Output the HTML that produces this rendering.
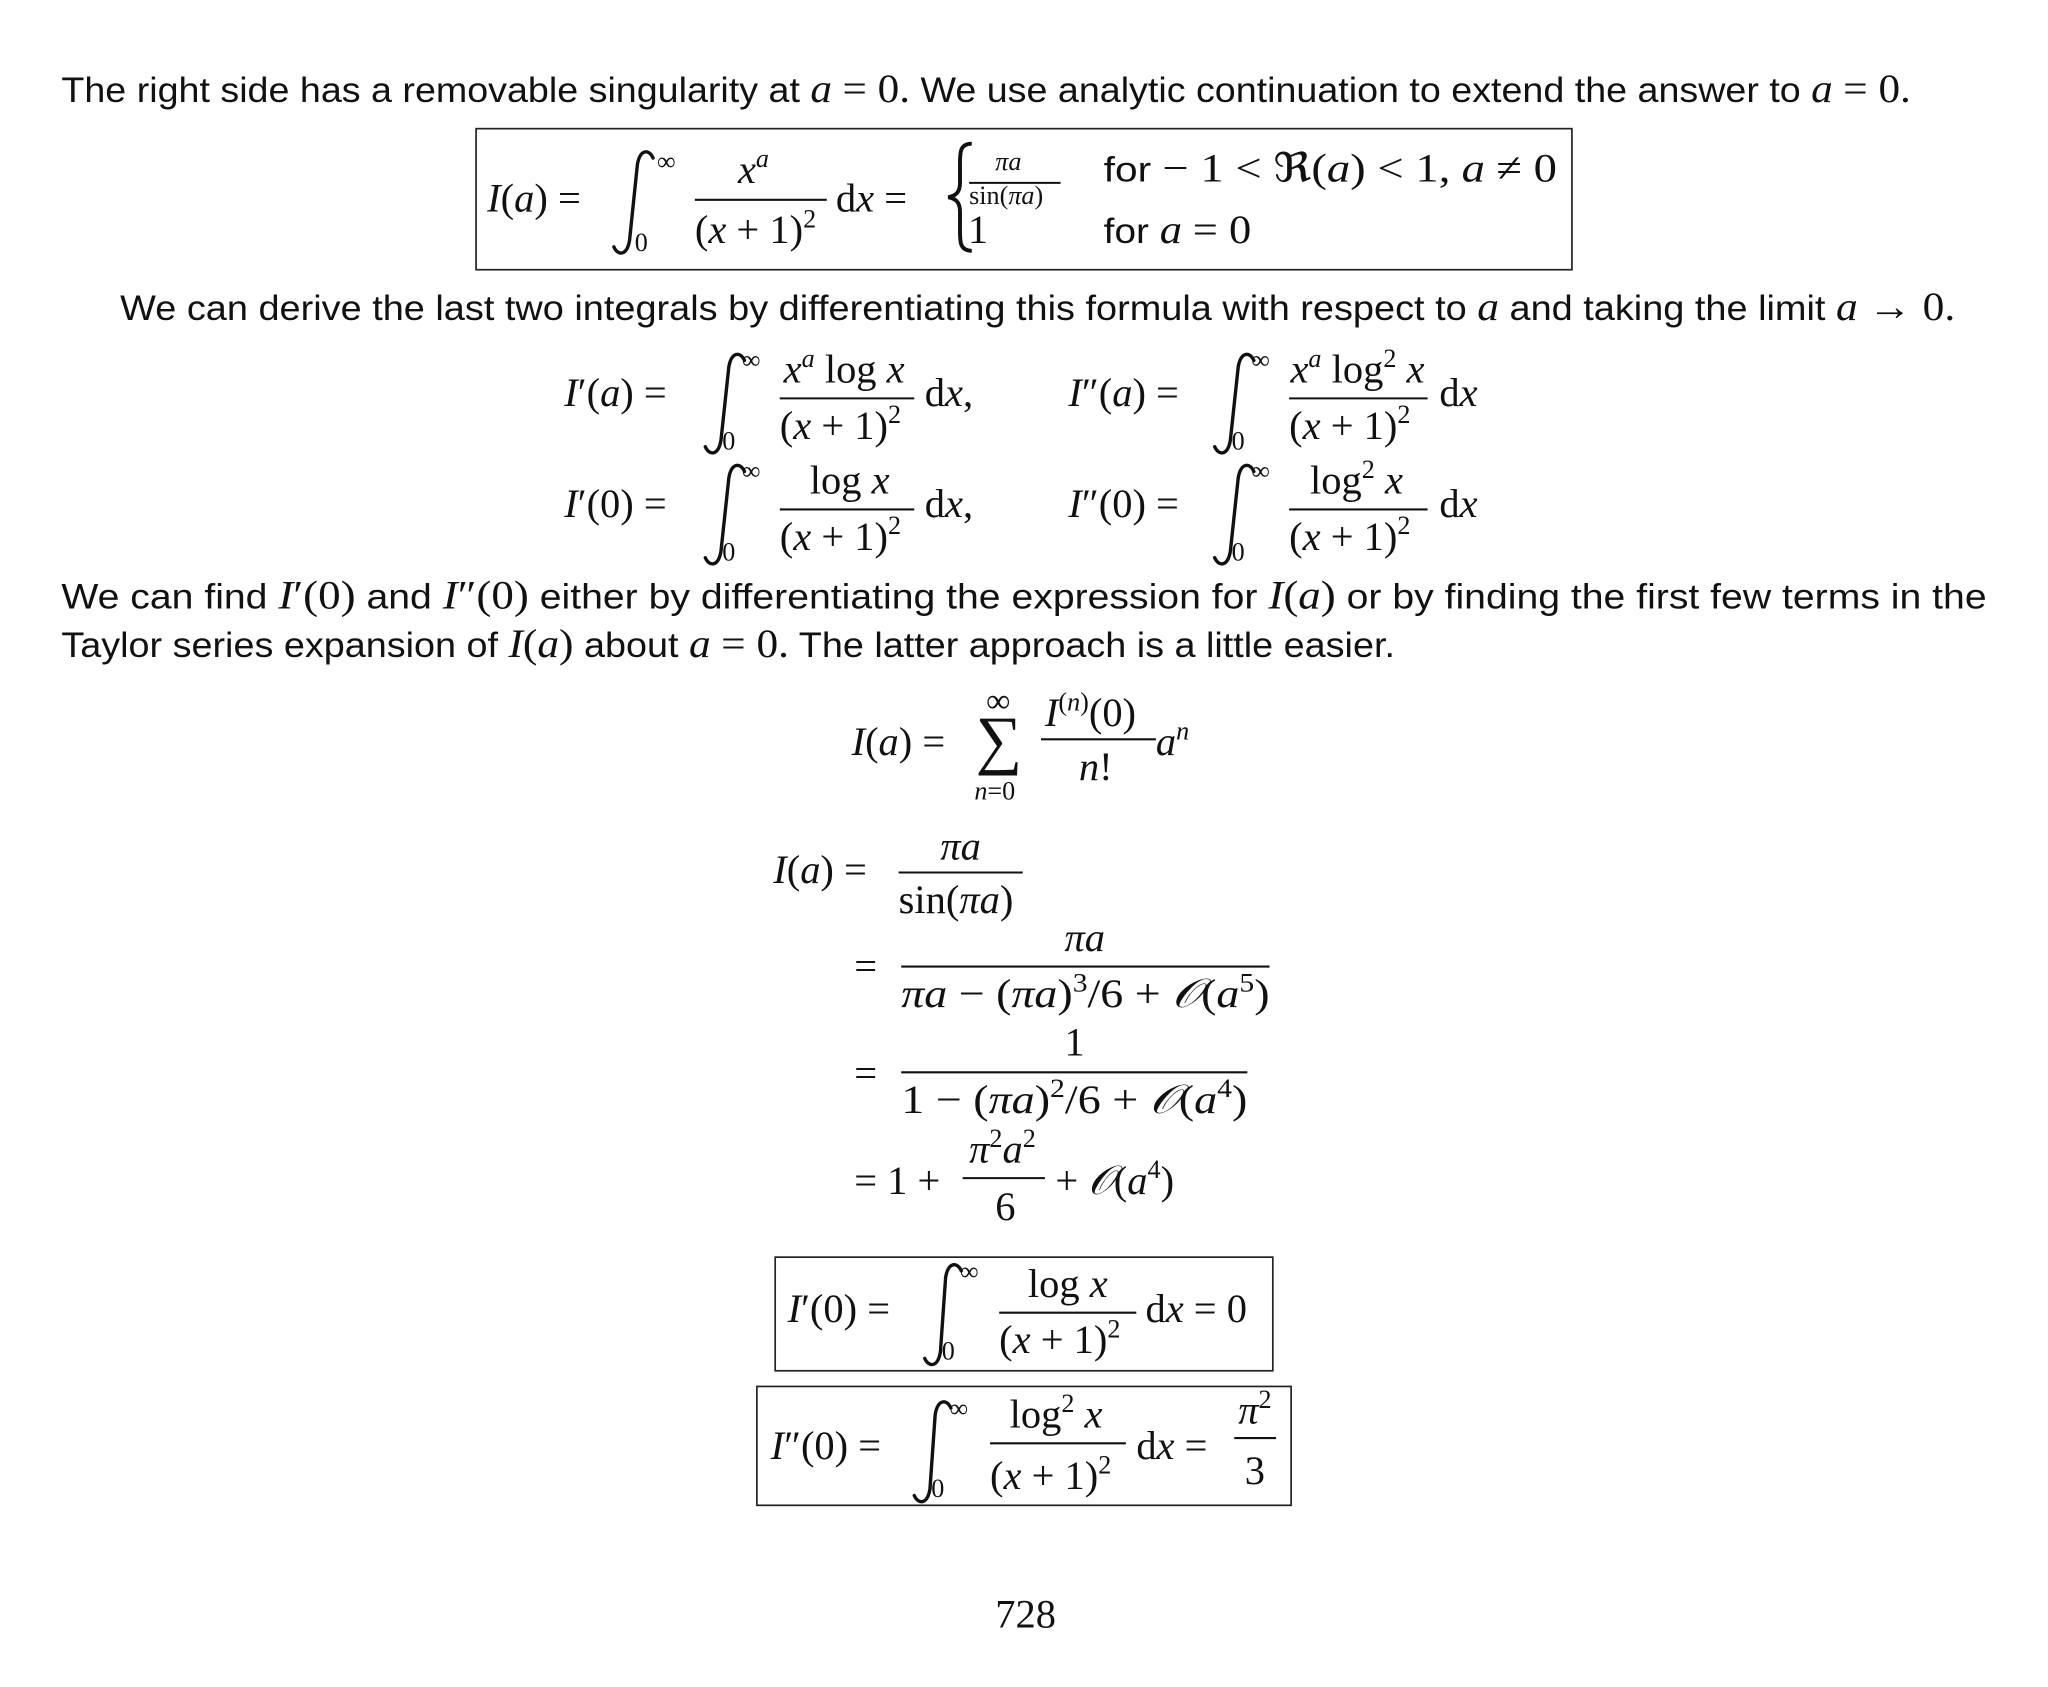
<!DOCTYPE html>
<html><head><meta charset="utf-8"><style>
html,body{margin:0;padding:0;background:#fff;}
svg{display:block;}
.s{font-family:"Liberation Sans",sans-serif;font-size:27px;fill:#111;}
.m{font-family:"Liberation Serif",serif;font-size:31px;fill:#111;}
.i{font-style:italic;}
.sm{font-size:20px;}
.int{fill:none;stroke:#111;stroke-width:2.6;stroke-linecap:round;}
.bar{stroke:#111;stroke-width:1.6;}
</style></head><body>
<svg width="2048" height="1687" viewBox="0 0 1568 1291.6" xmlns="http://www.w3.org/2000/svg">
<text class="s" x="47" y="78" textLength="1416" lengthAdjust="spacingAndGlyphs">The right side has a removable singularity at <tspan class="m i">a</tspan> <tspan class="m">= 0.</tspan> We use analytic continuation to extend the answer to <tspan class="m i">a</tspan> <tspan class="m">= 0.</tspan></text>

<rect x="364.5" y="98.5" width="839" height="108" fill="none" stroke="#222" stroke-width="1.3"/>
<text class="m" x="373" y="162"><tspan class="i">I</tspan>(<tspan class="i">a</tspan>) =</text>
<path class="int" d="M500 121 C497 114,490 114,488 126 L482 184 C480 196,473 196,470 189"/>
<text class="m sm" x="503" y="130">∞</text>
<text class="m sm" x="486" y="192">0</text>
<text class="m i" x="565" y="140">x<tspan class="sm" dy="-12">a</tspan></text>
<line class="bar" x1="532" y1="153" x2="633" y2="153"/>
<text class="m" x="532" y="186">(<tspan class="i">x</tspan> + 1)<tspan class="sm" dy="-12">2</tspan></text>
<text class="m" x="640" y="162">d<tspan class="i">x</tspan> =</text>
<path d="M744 110 C734 110,735 118,735 130 L735 140 C735 148,731 150,726 151 C731 152,735 154,735 162 L735 172 C735 184,734 192,744 192" fill="none" stroke="#111" stroke-width="3"/>
<text class="m sm" x="762" y="130"><tspan class="i">πa</tspan></text>
<line class="bar" x1="742" y1="140" x2="812" y2="140"/>
<text class="m sm" x="742" y="156">sin(<tspan class="i">πa</tspan>)</text>
<text class="s" x="845" y="139" textLength="347" lengthAdjust="spacingAndGlyphs">for <tspan class="m">− 1 &lt; ℜ(</tspan><tspan class="m i">a</tspan><tspan class="m">) &lt; 1,</tspan> <tspan class="m i">a</tspan> <tspan class="m">≠ 0</tspan></text>
<text class="m" x="741" y="186">1</text>
<text class="s" x="845" y="186" textLength="113" lengthAdjust="spacingAndGlyphs">for <tspan class="m i">a</tspan> <tspan class="m">= 0</tspan></text>

<text class="s" x="92" y="245" textLength="1405" lengthAdjust="spacingAndGlyphs">We can derive the last two integrals by differentiating this formula with respect to <tspan class="m i">a</tspan> and taking the limit <tspan class="m i">a</tspan> <tspan class="m">→ 0.</tspan></text>

<text class="m" x="432" y="311"><tspan class="i">I</tspan>′(<tspan class="i">a</tspan>) =</text>
<path class="int" d="M570 276 C567 269,560 269,558 281 L552 337 C550 349,543 349,540 342"/>
<text class="m sm" x="568" y="282">∞</text>
<text class="m sm" x="553" y="344">0</text>
<text class="m" x="600" y="293"><tspan class="i">x</tspan><tspan class="sm i" dy="-12">a</tspan><tspan dy="12"> log </tspan><tspan class="i">x</tspan></text>
<line class="bar" x1="597" y1="305" x2="700" y2="305"/>
<text class="m" x="597" y="336">(<tspan class="i">x</tspan> + 1)<tspan class="sm" dy="-12">2</tspan></text>
<text class="m" x="708" y="311">d<tspan class="i">x</tspan>,</text>

<text class="m" x="818" y="311"><tspan class="i">I</tspan>″(<tspan class="i">a</tspan>) =</text>
<path class="int" d="M960 276 C957 269,950 269,948 281 L942 337 C940 349,933 349,930 342"/>
<text class="m sm" x="958" y="282">∞</text>
<text class="m sm" x="943" y="344">0</text>
<text class="m" x="988" y="293"><tspan class="i">x</tspan><tspan class="sm i" dy="-12">a</tspan><tspan dy="12"> log</tspan><tspan class="sm" dy="-12">2</tspan><tspan dy="12"> </tspan><tspan class="i">x</tspan></text>
<line class="bar" x1="987" y1="305" x2="1093" y2="305"/>
<text class="m" x="987" y="336">(<tspan class="i">x</tspan> + 1)<tspan class="sm" dy="-12">2</tspan></text>
<text class="m" x="1102" y="311">d<tspan class="i">x</tspan></text>

<text class="m" x="432" y="396"><tspan class="i">I</tspan>′(0) =</text>
<path class="int" d="M570 361 C567 354,560 354,558 366 L552 422 C550 434,543 434,540 427"/>
<text class="m sm" x="568" y="367">∞</text>
<text class="m sm" x="553" y="429">0</text>
<text class="m" x="620" y="378">log <tspan class="i">x</tspan></text>
<line class="bar" x1="597" y1="390" x2="700" y2="390"/>
<text class="m" x="597" y="421">(<tspan class="i">x</tspan> + 1)<tspan class="sm" dy="-12">2</tspan></text>
<text class="m" x="708" y="396">d<tspan class="i">x</tspan>,</text>

<text class="m" x="818" y="396"><tspan class="i">I</tspan>″(0) =</text>
<path class="int" d="M960 361 C957 354,950 354,948 366 L942 422 C940 434,933 434,930 427"/>
<text class="m sm" x="958" y="367">∞</text>
<text class="m sm" x="943" y="429">0</text>
<text class="m" x="1003" y="378">log<tspan class="sm" dy="-12">2</tspan><tspan dy="12"> </tspan><tspan class="i">x</tspan></text>
<line class="bar" x1="987" y1="390" x2="1093" y2="390"/>
<text class="m" x="987" y="421">(<tspan class="i">x</tspan> + 1)<tspan class="sm" dy="-12">2</tspan></text>
<text class="m" x="1102" y="396">d<tspan class="i">x</tspan></text>

<text class="s" x="47" y="466" textLength="1474" lengthAdjust="spacingAndGlyphs">We can find <tspan class="m"><tspan class="i">I</tspan>′(0)</tspan> and <tspan class="m"><tspan class="i">I</tspan>″(0)</tspan> either by differentiating the expression for <tspan class="m"><tspan class="i">I</tspan>(<tspan class="i">a</tspan>)</tspan> or by finding the first few terms in the</text>
<text class="s" x="47" y="503" textLength="1021" lengthAdjust="spacingAndGlyphs">Taylor series expansion of <tspan class="m"><tspan class="i">I</tspan>(<tspan class="i">a</tspan>)</tspan> about <tspan class="m i">a</tspan> <tspan class="m">= 0.</tspan> The latter approach is a little easier.</text>

<text class="m" x="652" y="578"><tspan class="i">I</tspan>(<tspan class="i">a</tspan>) =</text>
<text class="m" x="747" y="583" style="font-size:50px">∑</text>
<text class="m" x="755" y="545" style="font-size:26px">∞</text>
<text class="m sm i" x="746" y="612">n<tspan style="font-style:normal">=0</tspan></text>
<text class="m" x="800" y="556"><tspan class="i">I</tspan><tspan class="sm" dy="-12">(<tspan class="i">n</tspan>)</tspan><tspan dy="12">(0)</tspan></text>
<line class="bar" x1="797" y1="566" x2="885" y2="566"/>
<text class="m" x="826" y="597"><tspan class="i">n</tspan>!</text>
<text class="m i" x="885" y="578">a<tspan class="sm" dy="-12">n</tspan></text>

<text class="m" x="592" y="676"><tspan class="i">I</tspan>(<tspan class="i">a</tspan>) =</text>
<text class="m i" x="720" y="658">πa</text>
<line class="bar" x1="688" y1="668" x2="783" y2="668"/>
<text class="m" x="688" y="699">sin(<tspan class="i">πa</tspan>)</text>

<text class="m" x="654" y="750">=</text>
<text class="m i" x="815" y="728">πa</text>
<line class="bar" x1="690" y1="740" x2="972" y2="740"/>
<text class="m" x="690" y="771" textLength="282" lengthAdjust="spacingAndGlyphs"><tspan class="i">πa</tspan> − (<tspan class="i">πa</tspan>)<tspan class="sm" dy="-12">3</tspan><tspan dy="12">/6 + </tspan><tspan class="i">𝒪</tspan>(<tspan class="i">a</tspan><tspan class="sm" dy="-12">5</tspan><tspan dy="12">)</tspan></text>

<text class="m" x="654" y="832">=</text>
<text class="m" x="815" y="808">1</text>
<line class="bar" x1="690" y1="821" x2="955" y2="821"/>
<text class="m" x="690" y="852" textLength="265" lengthAdjust="spacingAndGlyphs">1 − (<tspan class="i">πa</tspan>)<tspan class="sm" dy="-12">2</tspan><tspan dy="12">/6 + </tspan><tspan class="i">𝒪</tspan>(<tspan class="i">a</tspan><tspan class="sm" dy="-12">4</tspan><tspan dy="12">)</tspan></text>

<text class="m" x="654" y="914">= 1 +</text>
<text class="m i" x="742" y="890">π<tspan class="sm" dy="-12" style="font-style:normal">2</tspan><tspan dy="12">a</tspan><tspan class="sm" dy="-12" style="font-style:normal">2</tspan></text>
<line class="bar" x1="737" y1="902" x2="800" y2="902"/>
<text class="m" x="762" y="934">6</text>
<text class="m" x="808" y="914">+ <tspan class="i">𝒪</tspan>(<tspan class="i">a</tspan><tspan class="sm" dy="-12">4</tspan><tspan dy="12">)</tspan></text>

<rect x="593.5" y="962.5" width="381" height="87" fill="none" stroke="#222" stroke-width="1.3"/>
<text class="m" x="603" y="1012"><tspan class="i">I</tspan>′(0) =</text>
<path class="int" d="M736 973 C733 966,726 966,724 978 L720 1035 C718 1047,711 1047,708 1040"/>
<text class="m sm" x="735" y="980">∞</text>
<text class="m sm" x="721" y="1041">0</text>
<text class="m" x="787" y="993">log <tspan class="i">x</tspan></text>
<line class="bar" x1="765" y1="1005" x2="870" y2="1005"/>
<text class="m" x="765" y="1036">(<tspan class="i">x</tspan> + 1)<tspan class="sm" dy="-12">2</tspan></text>
<text class="m" x="877" y="1012">d<tspan class="i">x</tspan> = 0</text>

<rect x="579.5" y="1061.5" width="409" height="91" fill="none" stroke="#222" stroke-width="1.3"/>
<text class="m" x="590" y="1117"><tspan class="i">I</tspan>″(0) =</text>
<path class="int" d="M728 1078 C725 1071,718 1071,716 1083 L712 1140 C710 1152,703 1152,700 1145"/>
<text class="m sm" x="727" y="1085">∞</text>
<text class="m sm" x="713" y="1146">0</text>
<text class="m" x="773" y="1093">log<tspan class="sm" dy="-12">2</tspan><tspan dy="12"> </tspan><tspan class="i">x</tspan></text>
<line class="bar" x1="758" y1="1105" x2="862" y2="1105"/>
<text class="m" x="758" y="1140">(<tspan class="i">x</tspan> + 1)<tspan class="sm" dy="-12">2</tspan></text>
<text class="m" x="870" y="1117">d<tspan class="i">x</tspan> =</text>
<text class="m i" x="948" y="1090">π<tspan class="sm" dy="-12" style="font-style:normal">2</tspan></text>
<line class="bar" x1="945" y1="1101" x2="977" y2="1101"/>
<text class="m" x="953" y="1136">3</text>

<text class="m" x="762" y="1246">728</text>
</svg>
</body></html>
